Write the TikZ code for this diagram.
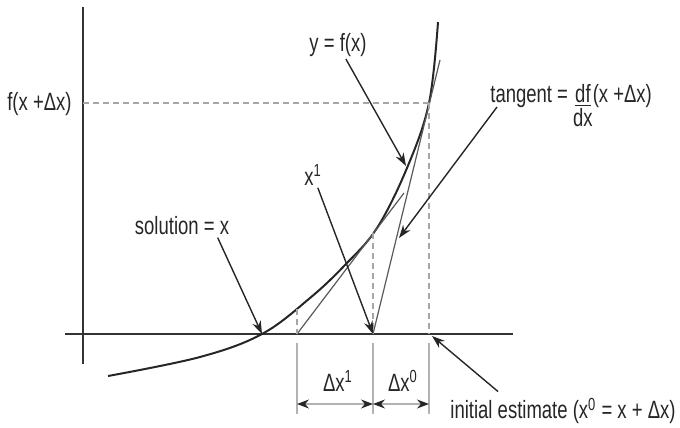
\documentclass[tikz,border=0pt]{standalone}
\usepackage{fontspec}
\setmainfont{Liberation Sans}[FakeStretch=0.74]
\usepackage{tikz}
\usetikzlibrary{arrows.meta}

\begin{document}
\begin{tikzpicture}[x=0.5pt,y=-0.5pt]

    \tikzset{axis/.style={draw=black!80,line width=1pt},
      curve/.style={draw=black!85,line width=1pt},
      tangentline/.style={draw=black!65,line width=0.6pt},
      guide/.style={draw=black!35,line width=0.7pt,dash pattern=on 3pt off 2pt},
      extline/.style={draw=black!30,line width=0.6pt},
      pointer/.style={draw=black!85,line width=0.7pt,-{Stealth[length=6.5pt,width=4.5pt]}},
      dimarrow/.style={draw=black!30,line width=0.6pt,{Stealth[length=6pt,width=4.5pt,black!85]}-{Stealth[length=6pt,width=4.5pt,black!85]}},
      lbl/.style={inner sep=1pt,text=black!85,font=\fontsize{12.5}{15}\selectfont}}
    \useasboundingbox (0,0) rectangle (680,428);

    % axes
    \draw[axis] (65,334) -- (513,334);
    \draw[axis] (83,7) -- (83,364);

    % points on the axis and on the curve
    \coordinate (x2) at (297,334);
    \coordinate (x1) at (373,334);
    \coordinate (x0) at (429,334);
    \coordinate (c2) at (297,309);
    \coordinate (c1) at (373,233);
    \coordinate (c0) at (429,103);
    \coordinate (root) at (262,334);
    \coordinate (ylev) at (83,103);
    \coordinate (t0end) at (440,60);
    \coordinate (t1end) at (404,193);

    % curve y = f(x)
    \draw[curve] plot[smooth,tension=0.6] coordinates {(108,376) (200,357) (262,334) (310,298) (345,265) (377,228) (407,168) (429,103) (438,22)};

    % tangents
    \draw[tangentline] (x1) -- (t0end);
    \draw[tangentline] (x2) -- (t1end);

    % guides
    \draw[guide] (ylev) -- (c0);
    \draw[guide] (c0) -- (x0);
    \draw[guide] (c1) -- (x1);
    \draw[guide] (c2) -- (x2);
    \foreach \p in {x2,x1,x0}
      \draw[extline] ([shift={(0,9)}]\p) -- ([shift={(0,80)}]\p);

    % increments
    \draw[dimarrow] ([shift={(0,70)}]x2) -- ([shift={(0,70)}]x1);
    \draw[dimarrow] ([shift={(0,70)}]x1) -- ([shift={(0,70)}]x0);
    \node[lbl] (dx1) at (338,381) {Δx\textsuperscript{1}};
    \node[lbl] (dx0) at (403,381) {Δx\textsuperscript{0}};

    % labels
    \node[lbl,anchor=east] (fval) at (74,104) {f(x +Δx)};
    \node[lbl] (yfx) at (338,45) {y = f(x)};
    \node[lbl] (xone) at (313,175) {x\textsuperscript{1}};
    \node[lbl] (sol) at (182,226) {solution = x};
    \node[lbl,anchor=base west] (tan) at (488,102) {tangent = \begin{tabular}[t]{@{}c@{}}\underline{df}\\[-3pt]dx\end{tabular}(x +Δx)};
    \node[lbl,anchor=east] (init) at (678,411) {initial estimate (x\textsuperscript{0} = x + Δx)};

    \coordinate (tipy) at (406,166);
    \coordinate (tipt) at (399,238);
    \coordinate (tipx) at (432,336);

    \draw[pointer] (yfx) -- (tipy);
    \draw[pointer] (xone) -- (x1);
    \draw[pointer] (sol.-18) -- (root);
    \draw[pointer] ([shift={(9,5)}]tan.base west) -- (tipt);
    \draw[pointer] ([shift={(50,-4)}]init.north west) -- (tipx);

\end{tikzpicture}
\end{document}
